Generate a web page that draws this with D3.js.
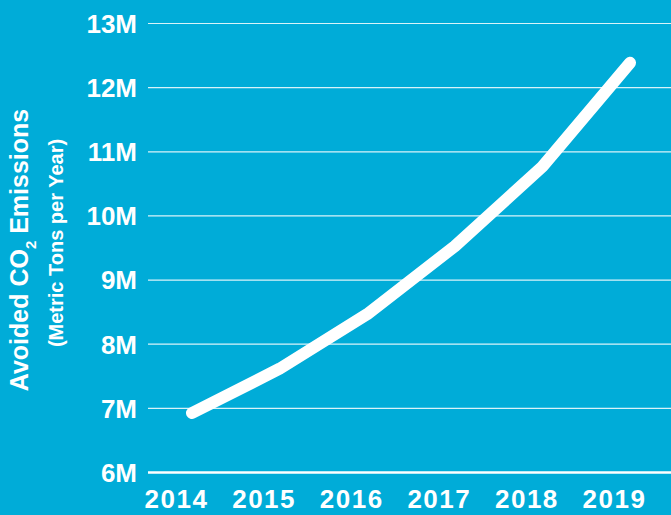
<!DOCTYPE html>
<html lang="en">
	<head>
		<meta charset="utf-8">
		<title>Avoided CO2 Emissions</title>
		<script type="text/javascript" src="https://cdnjs.cloudflare.com/ajax/libs/d3/7.8.5/d3.min.js"></script>
		<style type="text/css">
			body { margin: 0; background: #00acd8; }
			svg { display: block; font-family: "Liberation Sans", Arial, sans-serif; font-weight: bold; }
		</style>
	</head>
	<body>
		<script type="text/javascript">

			//Width and height
			var w = 671;
			var h = 515;

			//Data
			var years = ["2014", "2015", "2016", "2017", "2018", "2019"];
			var emissions = [6.92, 7.61, 8.46, 9.52, 10.76, 12.38];   //millions of metric tons
			var yTicks = [6, 7, 8, 9, 10, 11, 12, 13];

			var dataset = years.map((y, i) => ({year: y, value: emissions[i]}));

			//Scales
			var xScale = d3.scalePoint()
						   .domain(years)
						   .range([192, 630]);

			var yScale = d3.scaleLinear()
						   .domain([6, 13])
						   .range([472, 23]);

			//SVG
			var svg = d3.select("body")
						.append("svg")
						.attr("width", w)
						.attr("height", h);

			svg.append("rect")
			   .attr("width", w)
			   .attr("height", h)
			   .attr("fill", "#00acd8");

			//Y axis with gridlines
			var yAxis = d3.axisLeft(yScale)
						  .tickValues(yTicks)
						  .tickFormat(d => d + "M")
						  .tickSize(-(w - 148))
						  .tickPadding(11);

			var yg = svg.append("g")
						.attr("transform", "translate(148,0)")
						.call(yAxis);
			yg.select(".domain").remove();
			yg.selectAll(".tick line")
			  .attr("stroke", "#ffffff")
			  .attr("stroke-opacity", d => d === 6 ? 1 : 0.85)
			  .attr("stroke-width", d => d === 6 ? 2.5 : 1.2);
			yg.selectAll(".tick text")
			  .attr("fill", "#ffffff")
			  .attr("font-size", 26)
			  .attr("font-family", "Liberation Sans, Arial, sans-serif")
			  .attr("font-weight", "bold")
			  .attr("dy", "0.36em");

			//X axis labels (sit slightly left of the data points)
			var xAxis = d3.axisBottom(xScale)
						  .tickSize(0)
						  .tickPadding(18);

			var xg = svg.append("g")
						.attr("transform", "translate(-16,472)")
						.call(xAxis);
			xg.select(".domain").remove();
			xg.selectAll(".tick text")
			  .attr("fill", "#ffffff")
			  .attr("font-size", 26)
			  .attr("font-family", "Liberation Sans, Arial, sans-serif")
			  .attr("font-weight", "bold")
			  .attr("letter-spacing", 1.5);

			//Line
			var line = d3.line()
						 .x(d => xScale(d.year))
						 .y(d => yScale(d.value));

			svg.append("path")
			   .datum(dataset)
			   .attr("d", line)
			   .attr("fill", "none")
			   .attr("stroke", "#ffffff")
			   .attr("stroke-width", 12)
			   .attr("stroke-linecap", "round")
			   .attr("stroke-linejoin", "round");

			//Y axis title
			var title = svg.append("text")
						   .attr("transform", "translate(28,250) rotate(-90)")
						   .attr("text-anchor", "middle")
						   .attr("fill", "#ffffff")
						   .attr("font-size", 25);
			title.append("tspan").text("Avoided CO");
			title.append("tspan").attr("font-size", 15).attr("dy", 8).text("2");
			title.append("tspan").attr("dy", -8).text(" Emissions");

			svg.append("text")
			   .attr("transform", "translate(63,243) rotate(-90)")
			   .attr("text-anchor", "middle")
			   .attr("fill", "#ffffff")
			   .attr("font-size", 20)
			   .text("(Metric Tons per Year)");

		</script>
	</body>
</html>
